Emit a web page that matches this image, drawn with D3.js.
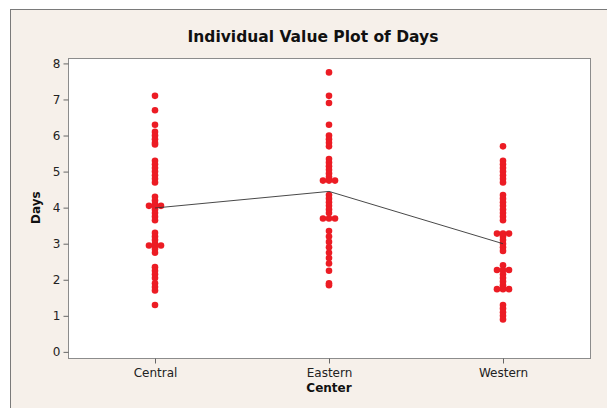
<!DOCTYPE html>
<html>
<head>
<meta charset="utf-8">
<script src="https://cdnjs.cloudflare.com/ajax/libs/d3/7.8.5/d3.min.js"></script>
<style>
  body { margin: 0; background: #fff; }
  text { font-family: "DejaVu Sans", Verdana, sans-serif; fill: #111; }
</style>
</head>
<body>
<svg id="chart" width="607" height="408"></svg>
<script>
// data
var centers = ["Central", "Eastern", "Western"];
var central = [7.1, 6.7, 6.3, 6.1, 6.0, 5.9, 5.8, 5.75, 5.3, 5.2, 5.1, 5.0, 4.9, 4.8, 4.7,
    4.3, 4.2, 4.1, 4.05, 4.05, 4.05, 3.95, 3.85, 3.75, 3.65, 3.3, 3.2, 3.1, 3.0,
    2.95, 2.95, 2.95, 2.85, 2.75, 2.35, 2.25, 2.15, 2.05, 1.9, 1.8, 1.7, 1.3];
var eastern = [7.75, 7.1, 6.9, 6.3, 6.0, 5.9, 5.8, 5.7, 5.35, 5.25, 5.15, 5.05, 4.95, 4.85,
    4.75, 4.75, 4.75, 4.35, 4.25, 4.15, 4.05, 3.95, 3.85, 3.7, 3.7, 3.7,
    3.35, 3.2, 3.05, 2.9, 2.75, 2.6, 2.45, 2.25, 1.9, 1.85];
var western = [5.7, 5.3, 5.2, 5.1, 5.0, 4.9, 4.8, 4.7, 4.35, 4.25, 4.15, 4.05, 3.95, 3.85,
    3.75, 3.65, 3.28, 3.28, 3.28, 3.2, 3.1, 3.0, 2.9, 2.8, 2.4, 2.27, 2.27, 2.27,
    2.15, 2.05, 1.95, 1.85, 1.74, 1.74, 1.74, 1.3, 1.2, 1.1, 1.0, 0.9];
var centerMeans = [3.99, 4.45, 3.0];
var yTicks = [0, 1, 2, 3, 4, 5, 6, 7, 8];

var svg = d3.select("#chart");

// window background + border
svg.append("rect")
    .attr("x", 10.5).attr("y", 9.5)
    .attr("width", 620).attr("height", 420)
    .style("fill", "#f6f0ea")
    .style("stroke", "#7a7a7a")
    .style("stroke-width", 1);

var plotL = 68, plotR = 590, plotT = 58, plotB = 358;

var x = d3.scalePoint()
    .domain(centers)
    .range([plotL, plotR])
    .padding(0.5);

var y = d3.scaleLinear()
    .domain([-0.17, 8.15])
    .range([plotB, plotT]);

// plot area
svg.append("rect")
    .attr("x", plotL + 0.5).attr("y", plotT + 0.5)
    .attr("width", plotR - plotL).attr("height", plotB - plotT)
    .style("fill", "#fff")
    .style("stroke", "#8c8c8c");

// axes
var yAxis = svg.append("g")
    .attr("transform", "translate(" + (plotL + 0.5) + ",0)")
    .call(d3.axisLeft(y).tickValues(yTicks).tickSize(5).tickPadding(3));
var xAxis = svg.append("g")
    .attr("transform", "translate(0," + (plotB + 0.5) + ")")
    .call(d3.axisBottom(x).tickSize(5).tickPadding(5));

[yAxis, xAxis].forEach(function (a) {
    a.select(".domain").remove();
    a.selectAll("line").style("stroke", "#666");
    a.selectAll("text")
        .style("font-family", "'DejaVu Sans', Verdana, sans-serif")
        .style("font-size", "12px")
        .style("fill", "#222");
});

// dots: duplicates are put side by side
var groups = [central, eastern, western];
var dots = [];
groups.forEach(function (vals, gi) {
    var counts = d3.rollup(vals, function (v) { return v.length; }, function (d) { return d; });
    var seen = new Map();
    vals.forEach(function (v) {
        var n = counts.get(v), k = seen.get(v) || 0;
        seen.set(v, k + 1);
        dots.push({c: centers[gi], v: v, off: (k - (n - 1) / 2) * 6});
    });
});

svg.append("g").selectAll("circle")
    .data(dots)
    .enter().append("circle")
    .attr("cx", function (d) { return x(d.c) + d.off; })
    .attr("cy", function (d) { return y(d.v); })
    .attr("r", 3.3)
    .style("fill", "#ec1c24");

// mean connect line
var line = d3.line()
    .x(function (d, i) { return x(centers[i]); })
    .y(function (d) { return y(d); });

svg.append("path")
    .datum(centerMeans)
    .attr("d", line)
    .style("fill", "none")
    .style("stroke", "#333")
    .style("stroke-width", 0.9);

// titles
svg.append("text")
    .attr("x", 313).attr("y", 42)
    .style("text-anchor", "middle")
    .style("font-size", "15.5px")
    .style("font-weight", "bold")
    .text("Individual Value Plot of Days");

svg.append("text")
    .attr("x", x("Eastern")).attr("y", 392)
    .style("text-anchor", "middle")
    .style("font-size", "12px")
    .style("font-weight", "bold")
    .text("Center");

svg.append("text")
    .attr("transform", "translate(40," + y(4) + ") rotate(-90)")
    .style("text-anchor", "middle")
    .style("font-size", "12px")
    .style("font-weight", "bold")
    .text("Days");
</script>
</body>
</html>
